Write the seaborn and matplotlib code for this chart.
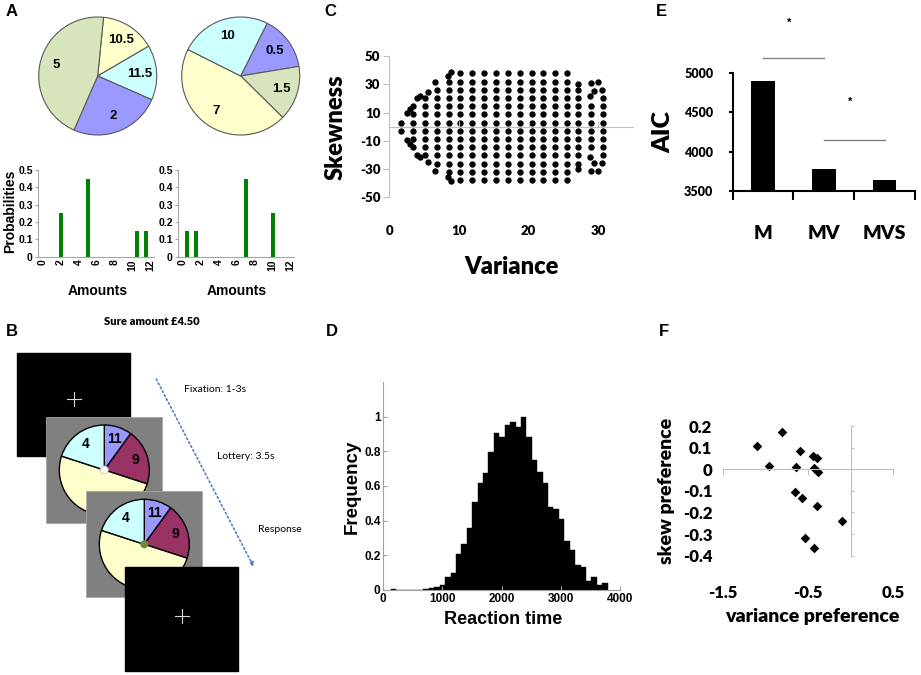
import numpy as np
import pandas as pd
import seaborn as sns
from matplotlib import pyplot as plt
from matplotlib.patches import Rectangle, Circle

W, H = 921, 675

# A: two example lotteries
lottery1_amounts = [10.5, 11.5, 2, 5]
lottery1_probs = [0.15, 0.15, 0.25, 0.45]
lottery2_amounts = [0.5, 1.5, 7, 10]
lottery2_probs = [0.15, 0.15, 0.45, 0.25]
amount_ticks = [0, 2, 4, 6, 8, 10, 12]
prob_ticks = [0, 0.1, 0.2, 0.3, 0.4, 0.5]
prob_ticklabels = ['0', '0.1', '0.2', '0.3', '0.4', '0.5']

# B: trial sequence
trial_labels = ['11', '9', '', '4']
trial_probs = [0.1, 0.2, 0.5, 0.2]
trial_steps = ['Fixation: 1-3s', 'Lottery: 3.5s', 'Response']
sure_amount = 'Sure amount £4.50'

# C: lottery set in variance / skewness space
skew_levels = [-37.7, -31.9, -26.1, -20.3, -14.5, -8.7, -2.9, 2.9, 8.7, 14.5, 20.3, 26.1, 31.9, 37.7]
column_variance = [1.7, 3.4, 5.1, 6.8, 8.5, 10.2, 11.9, 13.6, 15.3, 17.0, 18.7, 20.4, 22.1, 23.8, 25.5,
                   27.1, 29.0, 30.7]
column_reach = [2.9, 14.5, 20.3, 26.1, 31.9, 37.7, 37.7, 37.7, 37.7, 37.7, 37.7, 37.7, 37.7, 37.7, 37.7,
                26.1, 14.5, 20.3]
edge_variance = [2.5, 2.5, 3.0, 3.0, 4.0, 4.0, 4.4, 4.4, 5.5, 5.5, 6.6, 6.6, 8.4, 8.4, 8.9, 8.9,
                 27.0, 27.0, 28.8, 28.8, 29.4, 29.4, 28.9, 28.9, 30.0, 30.0, 30.5, 30.5]
edge_skewness = [9.5, -9.5, 12.5, -12.5, 20.0, -20.0, 21.5, -21.5, 24.8, -24.8, 31.5, -31.5, 35.5, -35.5,
                 38.5, -38.5, 30.2, -30.2, 21.7, -21.7, 25.5, -25.5, 31.1, -31.1, 31.6, -31.6, 26.0, -26.0]

# D: reaction time histogram (40 bins between first and last edge)
rt_freq = [0.005, 0, 0, 0, 0, 0, 0.006, 0.013, 0.015, 0.03, 0.073, 0.10, 0.205, 0.265, 0.36, 0.505,
           0.62, 0.675, 0.795, 0.905, 0.885, 0.95, 0.97, 0.94, 1.0, 0.885, 0.75, 0.68, 0.615, 0.48,
           0.47, 0.41, 0.28, 0.23, 0.145, 0.135, 0.05, 0.075, 0.03, 0.04]
rt_range = (130, 3790)

# E: model comparison
models = ['M', 'MV', 'MVS']
aic = [4906, 3773, 3636]
sig_from = [0, 1]
sig_to = [1, 2]
sig_line = [5190, 4150]
sig_star = [5650, 4640]

# F: individual preferences
var_pref = [-0.81, -1.10, -0.96, -0.60, -0.64, -0.44, -0.40, -0.43, -0.39, -0.66, -0.58, -0.40, -0.10,
            -0.54, -0.43]
skew_pref = [0.174, 0.108, 0.016, 0.086, 0.009, 0.061, 0.050, 0.004, -0.015, -0.104, -0.132, -0.169,
             -0.238, -0.317, -0.366]

ARIAL = ['Liberation Sans', 'DejaVu Sans']
NARROW = ['Liberation Sans Narrow', 'Liberation Sans', 'DejaVu Sans']
CALIBRI = ['Lato', 'DejaVu Sans']
HEAVY = 'heavy'
LIGHT = '#BFBFBF'

plt.rcParams['font.family'] = ARIAL
fig = plt.figure(figsize=(W / 100, H / 100), dpi=100)


def axes_px(left, top, right, bottom):
    return fig.add_axes([left / W, 1 - bottom / H, (right - left) / W, (bottom - top) / H])


def style_ticks(ax, family, size, weight='bold'):
    for lbl in ax.get_xticklabels() + ax.get_yticklabels():
        lbl.set_fontfamily(family)
        lbl.set_fontsize(size)
        lbl.set_fontweight(weight)


# ---- A: probability bars
for left, amounts, probs in [(38.3, lottery1_amounts, lottery1_probs),
                             (178.3, lottery2_amounts, lottery2_probs)]:
    ax = axes_px(left, 170, left + 116, 256.7)
    sns.barplot(x=amounts, y=probs, native_scale=True, orient='x', color='#008000',
                saturation=1, width=0.45, ax=ax)
    ax.set_xlim(-0.5, 12.4)
    ax.set_ylim(0, 0.5)
    ax.set_xticks(amount_ticks)
    ax.set_xticklabels([str(t) for t in amount_ticks], rotation=90)
    ax.set_yticks(prob_ticks)
    ax.set_yticklabels(prob_ticklabels)
    ax.set_xlabel('')
    ax.set_ylabel('')
    sns.despine(ax=ax)
    for side in ['left', 'bottom']:
        ax.spines[side].set_color('#A6A6A6')
    ax.tick_params(axis='x', length=0, pad=2)
    ax.tick_params(axis='y', length=2, color='#A6A6A6', pad=2)
    style_ticks(ax, ARIAL, 7.5)

# ---- C: variance / skewness grid
rows = []
for v, reach in zip(column_variance, column_reach):
    for s in skew_levels:
        if abs(s) <= reach + 0.01:
            rows.append((v, s))
rows += list(zip(edge_variance, edge_skewness))
dots = pd.DataFrame(rows, columns=['variance', 'skewness'])

ax_c = axes_px(389.3, 56, 633.3, 197.3)
sns.scatterplot(data=dots, x='variance', y='skewness', color='black', s=21, linewidth=0, ax=ax_c)
ax_c.set_xlim(0, 35)
ax_c.set_ylim(-50, 50)
ax_c.set_xticks([0, 10, 20, 30])
ax_c.set_yticks([-50, -30, -10, 10, 30, 50])
ax_c.set_yticklabels(['-50', '-30', '-10', '10', '30', '50'])
ax_c.set_xlabel('')
ax_c.set_ylabel('')
ax_c.spines['right'].set_visible(False)
ax_c.spines['bottom'].set_visible(False)
ax_c.spines['top'].set_position(('data', 0))
ax_c.spines['top'].set_color(LIGHT)
ax_c.spines['left'].set_color(LIGHT)
ax_c.tick_params(axis='x', top=True, bottom=False, labeltop=False, labelbottom=True,
                 direction='out', length=4, color=LIGHT, pad=16)
ax_c.tick_params(axis='y', length=4, color=LIGHT, pad=2.5)
style_ticks(ax_c, CALIBRI, 9.5, HEAVY)

# ---- D: reaction times
rt_edges = np.linspace(rt_range[0], rt_range[1], len(rt_freq) + 1)
rt = pd.DataFrame({'rt': (rt_edges[:-1] + rt_edges[1:]) / 2, 'freq': rt_freq})
ax_d = axes_px(383.3, 382, 620, 590)
sns.histplot(data=rt, x='rt', weights='freq', bins=list(rt_edges), color='black', alpha=1,
             edgecolor='black', linewidth=0.3, ax=ax_d)
ax_d.set_xlim(0, 4000)
ax_d.set_ylim(0, 1.2)
ax_d.set_xticks([0, 1000, 2000, 3000, 4000])
ax_d.set_yticks([0, 0.2, 0.4, 0.6, 0.8, 1.0])
ax_d.set_yticklabels(['0', '0.2', '0.4', '0.6', '0.8', '1'])
ax_d.set_xlabel('')
ax_d.set_ylabel('')
sns.despine(ax=ax_d)
for side in ['left', 'bottom']:
    ax_d.spines[side].set_color('#A0A0A0')
ax_d.tick_params(direction='in', length=3, color='#A0A0A0', pad=2)
style_ticks(ax_d, NARROW, 8.5)

# ---- E: AIC per model
ax_e = axes_px(732.7, 73.3, 915, 190.7)
sns.barplot(x=models, y=aic, color='black', saturation=1, width=0.385, ax=ax_e)
ax_e.set_xlim(-0.5, 2.5)
ax_e.set_ylim(3500, 5000)
ax_e.set_yticks([3500, 4000, 4500, 5000])
ax_e.set_xticks([-0.5, 0.5, 1.5, 2.5], minor=True)
sns.despine(ax=ax_e)
for side in ['left', 'bottom']:
    ax_e.spines[side].set_linewidth(1.5)
ax_e.tick_params(axis='x', which='major', length=0, pad=25)
ax_e.tick_params(axis='x', which='minor', length=6.5, width=1.5)
ax_e.tick_params(axis='y', length=3, width=1.5, pad=11)
style_ticks(ax_e, CALIBRI, 9, HEAVY)
for lbl in ax_e.get_xticklabels():
    lbl.set_fontsize(14)
for a, b, y_line, y_star in zip(sig_from, sig_to, sig_line, sig_star):
    ax_e.plot([a, b], [y_line, y_line], color='#808080', lw=1, clip_on=False)
    ax_e.text((a + b) / 2 - 0.07, y_star, '*', ha='center', va='center', fontsize=8,
              fontweight='bold', clip_on=False)

# ---- F: preferences
ax_f = axes_px(723.3, 426, 893.3, 555.7)
sns.scatterplot(x=var_pref, y=skew_pref, marker='D', color='black', s=24, linewidth=0, ax=ax_f)
ax_f.set_xlim(-1.5, 0.5)
ax_f.set_ylim(-0.4, 0.2)
ax_f.set_xticks([-1.5, -0.5, 0.5])
ax_f.set_xticklabels(['-1.5', '-0.5', '0.5'])
ax_f.set_yticks([-0.4, -0.3, -0.2, -0.1, 0, 0.1, 0.2])
ax_f.set_yticklabels(['-0.4', '-0.3', '-0.2', '-0.1', '0', '0.1', '0.2'])
ax_f.spines['left'].set_visible(False)
ax_f.spines['bottom'].set_visible(False)
ax_f.spines['top'].set_position(('data', 0))
ax_f.spines['right'].set_position(('data', 0))
ax_f.spines['top'].set_color(LIGHT)
ax_f.spines['right'].set_color(LIGHT)
ax_f.tick_params(axis='x', top=True, bottom=False, labeltop=False, labelbottom=True,
                 direction='in', length=4, color=LIGHT, pad=21)
ax_f.tick_params(axis='y', left=False, right=True, labelleft=True, labelright=False,
                 direction='out', length=2.5, color=LIGHT, pad=5.5)
style_ticks(ax_f, CALIBRI, 12, HEAVY)

# ---- overlay: pies, trial diagram, free text
ax_o = fig.add_axes([0, 0, 1, 1])


def pie(values, colors, labels, center, radius, start, z, edge, lw, size):
    _, texts = ax_o.pie(values, colors=colors, labels=labels, startangle=start, counterclock=False,
                        center=center, radius=radius, frame=True, labeldistance=0.72,
                        wedgeprops={'edgecolor': edge, 'linewidth': lw, 'zorder': z},
                        textprops={'fontsize': size, 'fontweight': 'bold', 'zorder': z + 0.5})
    for t in texts:
        t.set_ha('center')
        t.set_va('center')


pie(lottery1_probs, ['#FFFFCC', '#CCFFFF', '#9999FF', '#D8E4BC'],
    [f'{a:g}' for a in lottery1_amounts], (97.7, H - 76), 59, 84.3, 2, '#595959', 0.8, 9.5)
pie(lottery2_probs, ['#9999FF', '#D8E4BC', '#FFFFCC', '#CCFFFF'],
    [f'{a:g}' for a in lottery2_amounts], (240.7, H - 76), 59, 63.4, 2, '#595959', 0.8, 9.5)

trial_colors = ['#9999FF', '#993366', '#FFFFCC', '#CCFFFF']
ax_o.add_patch(Rectangle((16.7, H - 456), 113.3, 103.3, color='black', zorder=1))
ax_o.add_patch(Rectangle((46, H - 523.3), 115.7, 106.6, fc='#808080', ec='#A6A6A6', lw=0.6, zorder=2))
pie(trial_probs, trial_colors, trial_labels, (104.3, H - 470), 45, 90, 3, 'black', 1, 10)
ax_o.add_patch(Circle((104.3, H - 470), 4, fc='white', ec='#BFBFBF', lw=0.5, zorder=3.7))
ax_o.add_patch(Rectangle((86, H - 597.3), 115.7, 106.3, fc='#808080', ec='#A6A6A6', lw=0.6, zorder=4))
pie(trial_probs, trial_colors, trial_labels, (144.3, H - 544.3), 45, 90, 5, 'black', 1, 10)
ax_o.add_patch(Circle((144.3, H - 544.3), 4, fc='#6E8B3D', ec='none', zorder=5.7))
ax_o.add_patch(Rectangle((125, H - 670.7), 113.3, 103.4, color='black', zorder=6))
for cx, cy, z in [(74, H - 399.3, 1.5), (182.3, H - 616, 6.5)]:
    ax_o.plot([cx - 7, cx + 7], [cy, cy], color='#D9D9D9', lw=0.8, zorder=z)
    ax_o.plot([cx, cx], [cy - 7, cy + 7], color='#D9D9D9', lw=0.8, zorder=z)
ax_o.annotate('', xy=(255, H - 569.3), xytext=(155, H - 376.7),
              arrowprops=dict(arrowstyle='-|>', linestyle=':', color='#4F81BD', lw=1.2,
                              mutation_scale=6))

ax_o.set_xlim(0, W)
ax_o.set_ylim(0, H)
ax_o.axis('off')


def label(x, y, text, **kw):
    ax_o.text(x, H - y, text, ha='center', va='center', **kw)


label(151.7, 321.7, sure_amount, family=CALIBRI, fontsize=8, fontweight=HEAVY)
for (x, y), step in zip([(215, 389.3), (246, 456.7), (280, 529.3)], trial_steps):
    label(x, y, step, family=CALIBRI, fontsize=7.5)

label(10, 211.7, 'Probabilities', fontsize=10, fontweight='bold', rotation=90)
label(98, 291, 'Amounts', fontsize=10, fontweight='bold')
label(237, 291, 'Amounts', fontsize=10, fontweight='bold')

label(335.3, 126.7, 'Skewness', family=CALIBRI, fontsize=17, fontweight=HEAVY, rotation=90)
label(511.7, 266.7, 'Variance', family=CALIBRI, fontsize=17, fontweight=HEAVY)

label(352.3, 486.7, 'Frequency', fontsize=13.5, fontweight='bold', rotation=90)
label(502.7, 620, 'Reaction time', fontsize=13, fontweight='bold')

label(663, 132.3, 'AIC', family=CALIBRI, fontsize=18, fontweight=HEAVY, rotation=90)

label(666.7, 490.7, 'skew preference', family=CALIBRI, fontsize=14, fontweight=HEAVY, rotation=90)
label(812, 616.7, 'variance preference', family=CALIBRI, fontsize=14, fontweight=HEAVY)

for (x, y), letter in zip([(11.5, 12), (11.5, 331.5), (330, 11), (331.5, 331), (661.5, 11), (664, 331)],
                          'ABCDEF'):
    label(x, y, letter, fontsize=12, fontweight='bold')

fig.savefig('out.png', dpi=100)
